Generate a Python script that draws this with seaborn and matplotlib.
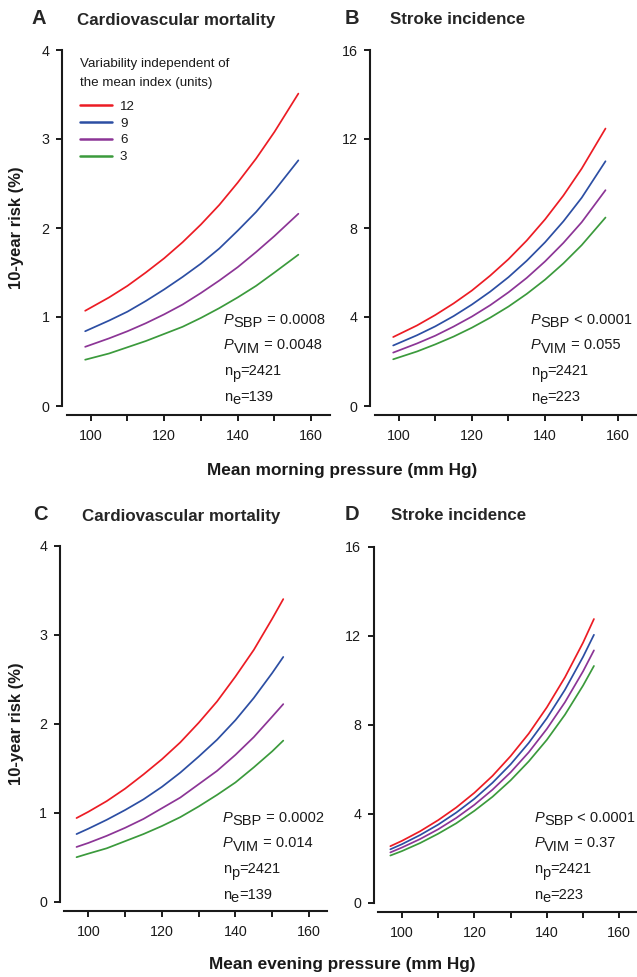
import numpy as np
import pandas as pd
import matplotlib
matplotlib.use("Agg")
import matplotlib.pyplot as plt
import seaborn as sns
from matplotlib.transforms import ScaledTranslation
from matplotlib.lines import Line2D

# ---------------- data ----------------
vim_levels = ["12", "9", "6", "3"]

x_morning = [98.5, 105, 110, 115, 120, 125, 130, 135, 140, 145, 150, 156.5]
x_evening = [96.8, 100, 105, 110, 115, 120, 125, 130, 135, 140, 145, 150, 153]

# A: cardiovascular mortality vs morning pressure
A_12 = [1.07, 1.22, 1.35, 1.50, 1.66, 1.84, 2.04, 2.26, 2.51, 2.78, 3.08, 3.51]
A_9 = [0.84, 0.96, 1.06, 1.18, 1.31, 1.45, 1.60, 1.77, 1.97, 2.18, 2.42, 2.76]
A_6 = [0.665, 0.76, 0.84, 0.93, 1.03, 1.14, 1.27, 1.41, 1.56, 1.73, 1.91, 2.16]
A_3 = [0.52, 0.59, 0.66, 0.73, 0.81, 0.89, 0.99, 1.10, 1.22, 1.35, 1.50, 1.70]

# B: stroke incidence vs morning pressure
B_12 = [3.10, 3.62, 4.09, 4.61, 5.19, 5.86, 6.60, 7.44, 8.39, 9.46, 10.67, 12.47]
B_9 = [2.72, 3.18, 3.58, 4.04, 4.56, 5.14, 5.79, 6.53, 7.36, 8.30, 9.36, 11.0]
B_6 = [2.40, 2.81, 3.16, 3.57, 4.02, 4.53, 5.11, 5.76, 6.50, 7.33, 8.26, 9.70]
B_3 = [2.10, 2.45, 2.77, 3.12, 3.52, 3.97, 4.47, 5.04, 5.68, 6.41, 7.23, 8.47]

# C: cardiovascular mortality vs evening pressure
C_12 = [0.94, 1.01, 1.13, 1.27, 1.43, 1.60, 1.79, 2.01, 2.25, 2.53, 2.83, 3.18, 3.40]
C_9 = [0.76, 0.82, 0.92, 1.03, 1.15, 1.29, 1.45, 1.63, 1.82, 2.04, 2.29, 2.57, 2.75]
C_6 = [0.615, 0.66, 0.74, 0.83, 0.93, 1.05, 1.17, 1.32, 1.47, 1.65, 1.85, 2.08, 2.22]
C_3 = [0.50, 0.54, 0.60, 0.68, 0.76, 0.85, 0.95, 1.07, 1.20, 1.34, 1.51, 1.69, 1.81]

# D: stroke incidence vs evening pressure
D_12 = [2.54, 2.78, 3.21, 3.71, 4.28, 4.94, 5.70, 6.59, 7.60, 8.78, 10.13, 11.69, 12.75]
D_9 = [2.40, 2.63, 3.04, 3.51, 4.05, 4.67, 5.39, 6.22, 7.18, 8.29, 9.57, 11.05, 12.04]
D_6 = [2.26, 2.48, 2.86, 3.30, 3.81, 4.40, 5.08, 5.86, 6.76, 7.81, 9.01, 10.40, 11.34]
D_3 = [2.12, 2.32, 2.68, 3.10, 3.57, 4.13, 4.76, 5.50, 6.35, 7.32, 8.45, 9.76, 10.64]

panel_letters = ["A", "B", "C", "D"]
panel_titles = ["Cardiovascular mortality", "Stroke incidence",
                "Cardiovascular mortality", "Stroke incidence"]
x_ticks = [100, 110, 120, 130, 140, 150, 160]
x_tick_labels = ["100", "", "120", "", "140", "", "160"]
y_ticks_cv = [0, 1, 2, 3, 4]
y_ticks_stroke = [0, 4, 8, 12, 16]
p_sbp_text = ["= 0.0008", "< 0.0001", "= 0.0002", "< 0.0001"]
p_vim_text = ["= 0.0048", "= 0.055", "= 0.014", "= 0.37"]
n_p_text = ["=2421", "=2421", "=2421", "=2421"]
n_e_text = ["=139", "=223", "=139", "=223"]
legend_title = "Variability independent of\nthe mean index (units)"
y_label = "10-year risk (%)"
x_label_morning = "Mean morning pressure (mm Hg)"
x_label_evening = "Mean evening pressure (mm Hg)"

# ---------------- style ----------------
sns.set_theme(style="ticks")
plt.rcParams["font.family"] = ["Liberation Sans", "DejaVu Sans"]
plt.rcParams["axes.linewidth"] = 1.5
plt.rcParams["xtick.major.width"] = 1.4
plt.rcParams["ytick.major.width"] = 1.4

palette = {"12": "#ec1c24", "9": "#2c4ea3", "6": "#8c3596", "3": "#3b9a3c"}
ink = "#1a1a1a"

W, H = 637, 977
fig = plt.figure(figsize=(W / 100, H / 100), dpi=100)
renderer = fig.canvas.get_renderer()


def fx(px):
    return px / W


def fy(py):
    return 1 - py / H


def long_df(x, series):
    rows = []
    for lvl, vals in zip(vim_levels, series):
        for xi, yi in zip(x, vals):
            rows.append({"pressure": xi, "risk": yi, "VIM": lvl})
    return pd.DataFrame(rows)


def rich(x_px, y_px, parts, size=10.5):
    """parts: list of (text, style, drop_px)"""
    dx = 0.0
    for s, style, drop in parts:
        off = ScaledTranslation(dx / 100, -drop / 100, fig.dpi_scale_trans)
        t = fig.text(fx(x_px), fy(y_px), s, fontsize=size, style=style,
                     va="baseline", ha="left", color=ink,
                     transform=fig.transFigure + off)
        dx += t.get_window_extent(renderer=renderer).width


panels = [
    dict(x=x_morning, s=[A_12, A_9, A_6, A_3], rect=(66.8, 50, 262.8, 356),
         ymax=4, yt=y_ticks_cv, letter=(32, 24), title=(77, 25), ann=(224, 323.5)),
    dict(x=x_morning, s=[B_12, B_9, B_6, B_3], rect=(374.9, 50, 261.7, 356),
         ymax=16, yt=y_ticks_stroke, letter=(345, 24), title=(390, 24), ann=(531, 323.5)),
    dict(x=x_evening, s=[C_12, C_9, C_6, C_3], rect=(64.4, 545.7, 263, 356),
         ymax=4, yt=y_ticks_cv, letter=(33, 520), title=(81.7, 520.5), ann=(222.7, 821.5)),
    dict(x=x_evening, s=[D_12, D_9, D_6, D_3], rect=(378.4, 546.7, 259, 356),
         ymax=16, yt=y_ticks_stroke, letter=(345, 520), title=(391, 520.5), ann=(534.3, 821.5)),
]

for i, p in enumerate(panels):
    l, t, w, h = p["rect"]
    ax = fig.add_axes([fx(l), fy(t + h), w / W, h / H])
    df = long_df(p["x"], p["s"])
    sns.lineplot(data=df, x="pressure", y="risk", hue="VIM", hue_order=vim_levels,
                 palette=palette, linewidth=1.25, estimator=None, errorbar=None,
                 sort=True, legend=False, ax=ax)
    ax.set_xlim(93.5, 165)
    ax.set_ylim(0, p["ymax"])
    ax.set_xticks(x_ticks)
    ax.set_xticklabels(x_tick_labels)
    ax.set_yticks(p["yt"])
    ax.set_yticklabels([str(v) for v in p["yt"]])
    for side in ("top", "right"):
        ax.spines[side].set_visible(False)
    ax.spines["left"].set_position(("outward", 3.5))
    ax.spines["bottom"].set_position(("outward", 6.5))
    ax.spines["left"].set_color(ink)
    ax.spines["bottom"].set_color(ink)
    ax.tick_params(axis="both", length=4.5, labelsize=10.3, colors=ink)
    ax.tick_params(axis="x", pad=5.5)
    ax.tick_params(axis="y", pad=4.5)
    ax.set_xlabel("")
    ax.set_ylabel("")
    ax.set_facecolor("none")

    fig.text(fx(p["letter"][0]), fy(p["letter"][1]), panel_letters[i],
             fontsize=14.5, fontweight="bold", va="baseline", ha="left")
    fig.text(fx(p["title"][0]), fy(p["title"][1]), panel_titles[i],
             fontsize=12.2, fontweight="bold", va="baseline", ha="left")

    ax_, ay_ = p["ann"]
    step = 25.8
    rich(ax_, ay_, [("P", "italic", 0), ("SBP", "normal", 3.5), (" " + p_sbp_text[i], "normal", 0)])
    rich(ax_, ay_ + step, [("P", "italic", 0), ("VIM", "normal", 3.5), (" " + p_vim_text[i], "normal", 0)])
    rich(ax_, ay_ + 2 * step, [("n", "normal", 0), ("p", "normal", 3.5), (n_p_text[i], "normal", 0)])
    rich(ax_, ay_ + 3 * step, [("n", "normal", 0), ("e", "normal", 3.5), (n_e_text[i], "normal", 0)])

    if i == 0:
        handles = [Line2D([], [], color=palette[v], lw=1.8) for v in vim_levels]
        leg = ax.legend(handles, vim_levels, title=legend_title, loc="upper left",
                        bbox_to_anchor=(fx(80), fy(58.5)), bbox_transform=fig.transFigure,
                        frameon=False, fontsize=9.6, title_fontsize=9.6,
                        alignment="left", borderpad=0, borderaxespad=0,
                        handlelength=2.4, handletextpad=0.6, labelspacing=0.34)
        leg.get_title().set_linespacing(1.68)
        leg.get_title().set_color(ink)
        for txt in leg.get_texts():
            txt.set_color(ink)
        leg._legend_box.sep = 8.5

# axis labels
for yc in (228, 723.7):
    fig.text(fx(17), fy(yc), y_label, rotation=90, fontsize=12, fontweight="bold",
             ha="center", va="center", color=ink)
fig.text(fx(342), fy(470), x_label_morning, fontsize=12.4, fontweight="bold",
         ha="center", va="center", color=ink)
fig.text(fx(342), fy(964.5), x_label_evening, fontsize=12.4, fontweight="bold",
         ha="center", va="center", color=ink)

fig.savefig("out.png", dpi=100)
